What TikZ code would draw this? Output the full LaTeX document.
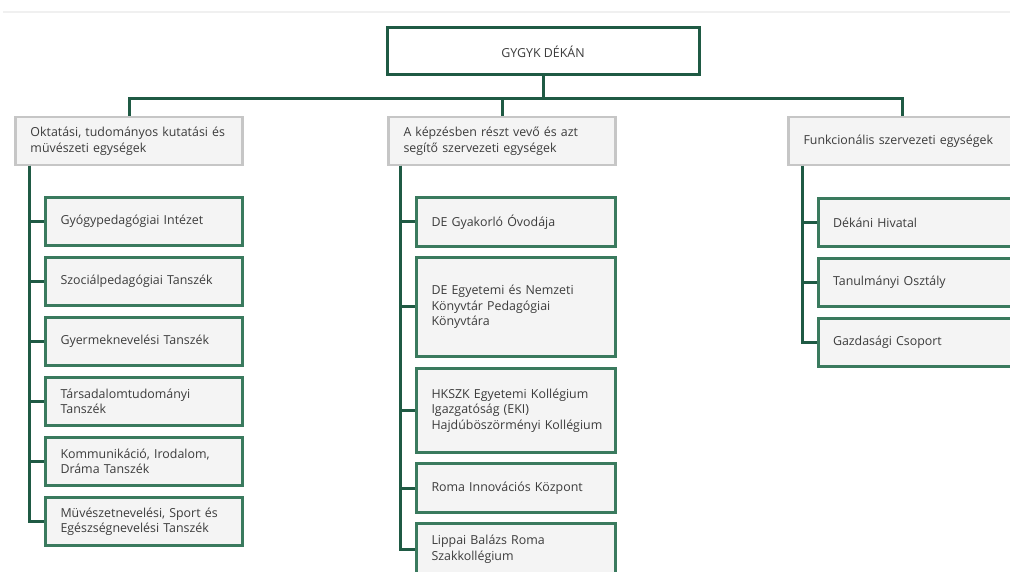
\documentclass[tikz,border=0pt]{standalone}
\usepackage{fontspec}
\setmainfont{Open Sans}
\definecolor{conngreen}{HTML}{1F5A44}
\definecolor{boxgreen}{HTML}{3A7A5E}
\definecolor{lvgray}{HTML}{C6C6C6}
\definecolor{boxfill}{HTML}{F4F4F4}
\definecolor{txt}{HTML}{3C3C3C}
\definecolor{topline}{HTML}{F0F0F0}
\begin{document}
\begin{tikzpicture}[x=1pt,y=-1pt,
  conn/.style={draw=conngreen,line width=3pt,line join=miter},
  base/.style={font=\fontsize{12.4}{15.5}\selectfont,text=txt,align=left,inner ysep=0pt,inner xsep=15pt},
  dean/.style={base,draw=conngreen,line width=3pt,fill=white,align=center,minimum width=312pt,minimum height=47pt},
  lvbox/.style={base,draw=lvgray,line width=2.6pt,fill=boxfill,text width=197pt,minimum height=48pt},
  chbox/.style={base,draw=boxgreen,line width=3pt,fill=boxfill,text width=#1},
  chbox/.default=167pt
]
\useasboundingbox (0,0) rectangle (1010,572);
\fill[white] (0,0) rectangle (1010,572);
\draw[topline,line width=1.5pt] (3,12) -- (1010,12);

\node[dean] (dean) at (543,51.5) {GYGYK DÉKÁN};

\node[lvbox] (la) at (129,141) {\mbox{Oktatási, tudományos kutatási és}\\müvészeti egységek};
\node[lvbox] (lb) at (502,141) {A képzésben részt vevő és azt\\segítő szervezeti egységek};
\node[lvbox] (lc) at (902,141) {\mbox{Funkcionális szervezeti egységek}};

\coordinate (j) at (543,99);
\draw[conn] (dean.south) -- (j);
\draw[conn] (j) -| (la.north);
\draw[conn] (j) -| (lb.north);
\draw[conn] (j) -| (lc.north);

% left column
\begin{scope}[every node/.style={chbox=167pt,minimum height=48pt}]
\node (a1) at (144,221.5) {Gyógypedagógiai Intézet};
\node (a2) at (144,281.5) {Szociálpedagógiai Tanszék};
\node (a3) at (144,341.5) {Gyermeknevelési Tanszék};
\node (a4) at (144,401.5) {Társadalomtudományi\\Tanszék};
\node (a5) at (144,461.5) {Kommunikáció, Irodalom,\\Dráma Tanszék};
\node (a6) at (144,521.5) {\mbox{Müvészetnevelési, Sport és}\\\mbox{Egészségnevelési Tanszék}};
\end{scope}
\coordinate (ta) at (29,166);
\foreach \n in {a1,a2,a3,a4,a5,a6} \draw[conn] (ta) |- (\n.west);

% middle column
\begin{scope}[every node/.style={chbox=169pt}]
\node[minimum height=49pt] (b1) at (516,222) {DE Gyakorló Óvodája};
\node[minimum height=98pt] (b2) at (516,307) {DE Egyetemi és Nemzeti\\Könyvtár Pedagógiai\\Könyvtára\\[6pt]};
\node[minimum height=84pt] (b3) at (516,410.5) {\mbox{HKSZK Egyetemi Kollégium}\\Igazgatóság (EKI)\\\mbox{Hajdúböszörményi Kollégium}};
\node[minimum height=49pt] (b4) at (516,488) {Roma Innovációs Központ};
\node[minimum height=52pt] (b5) at (516,549) {Lippai Balázs Roma\\Szakkollégium};
\end{scope}
\coordinate (tb) at (400,166);
\foreach \n in {b1,b2,b3,b4,b5} \draw[conn] (tb) |- (\n.west);

% right column
\begin{scope}[every node/.style={chbox=168pt,minimum height=48pt}]
\node (c1) at (917,222.5) {Dékáni Hivatal};
\node (c2) at (917,282.5) {Tanulmányi Osztály};
\node (c3) at (917,342.5) {Gazdasági Csoport};
\end{scope}
\coordinate (tc) at (802,166);
\foreach \n in {c1,c2,c3} \draw[conn] (tc) |- (\n.west);
\end{tikzpicture}
\end{document}
